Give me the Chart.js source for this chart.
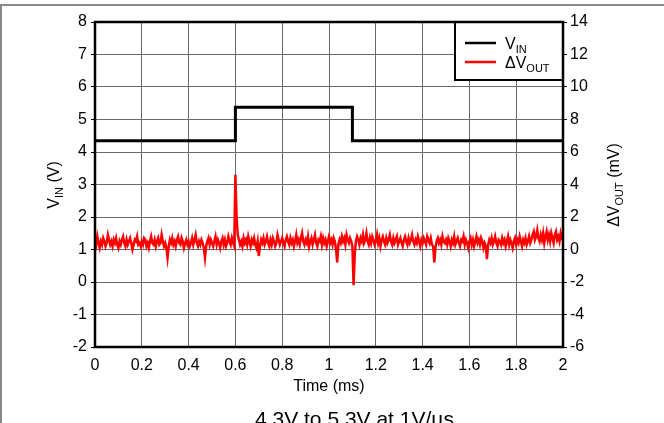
<!DOCTYPE html>
<html lang="en">
<head>
<meta charset="utf-8">
<title>VIN step response</title>
<script src="https://cdn.jsdelivr.net/npm/chart.js@4.4.0/dist/chart.umd.min.js"></script>
<style>
  html, body { margin: 0; padding: 0; background: #fff; }
  #wrap { width: 664px; height: 423px; }
</style>
</head>
<body>
<div id="wrap"><canvas id="chart" width="664" height="423"></canvas></div>
<script>
// --- data ---
const vinTimes = [0, 0.6, 0.6, 1.1, 1.1, 2];          // ms
const vinValues = [4.35, 4.35, 5.38, 5.38, 4.35, 4.35]; // V

const sampleStepMs = 0.005;
const dvoutValues = [ // mV, one sample every 0.005 ms from 0 to 2 ms
  0.6, 0.3, 0.8, 0.4, 0.1, 0.5, 0.3, 0.7, 0.5, 0.2,
  0.4, 0.9, 0.6, 0.3, 0.5, 0.2, 0.6, 0.4, 0.7, 0.3,
  0.1, 0.5, 0.3, 0.6, 0.8, 0.4, 0.2, 0.6, 0.3, 0.5,
  0.7, 0.4, 0.0, 0.3, 0.6, 0.5, 0.8, 0.3, 0.4, 0.2,
  0.5, 0.3, 0.7, 0.6, 0.2, 0.4, 0.1, 0.5, 0.8, 0.4,
  0.3, 0.6, 0.2, 0.5, 0.7, 0.3, 0.4, 0.9, 0.5, 0.2,
  0.4, 0.1, -0.5, 0.2, 0.6, 0.4, 0.7, 0.3, 0.5, 0.2,
  0.6, 0.8, 0.4, 0.3, 0.7, 0.5, 0.1, 0.4, 0.6, 0.3,
  0.5, 0.2, 0.4, 0.7, 0.3, 0.6, 0.9, 0.4, 0.2, 0.5,
  0.3, 0.6, 0.4, 0.1, -0.5, 0.2, 0.5, 0.7, 0.3, 0.6,
  0.4, 0.2, 0.5, 0.8, 0.3, 0.6, 0.4, 0.1, 0.5, 0.7,
  0.3, 0.6, 0.2, 0.4, 0.8, 0.5, 0.3, 0.7, 0.4, 0.2,
  4.6, 2.0, 0.9, 0.6, 0.3, 0.5, 0.2, 0.7, 0.4, 0.6,
  0.3, 0.8, 0.5, 0.2, 0.6, 0.4, 0.7, 0.3, 0.1, 0.5,
  -0.4, 0.2, 0.6, 0.4, 0.7, 0.3, 0.5, 0.8, 0.4, 0.2,
  0.6, 0.3, 0.7, 0.5, 0.2, 0.4, 0.9, 0.6, 0.3, 0.5,
  0.7, 0.4, 0.2, 0.6, 0.8, 0.5, 0.3, 0.7, 0.4, 0.6,
  0.2, 0.5, 0.9, 0.4, 0.6, 0.3, 0.7, 1.0, 0.5, 0.3,
  0.6, 0.4, 0.8, 0.2, 0.5, 0.7, 0.3, 0.6, 0.9, 0.4,
  0.2, 0.6, 0.5, 0.8, 0.3, 0.7, 0.4, 0.6, 0.2, 0.5,
  0.8, 0.4, 0.6, 0.3, 0.7, 0.5, 0.0, -0.8, 0.3, 0.6,
  0.4, 0.8, 0.5, 0.7, 0.3, 0.9, 0.6, 0.4, 0.7, 0.5,
  0.2, -2.2, -0.3, 0.5, 0.8, 0.6, 0.3, 0.7, 0.5, 0.9,
  0.4, 0.6, 1.0, 0.5, 0.3, 0.7, 0.4, 0.8, 0.6, 0.3,
  0.5, 0.9, 0.4, 0.7, 0.2, 0.6, 0.8, 0.5, 0.3, 0.7,
  0.4, 0.6, 0.9, 0.5, 0.3, 0.7, 0.4, 0.6, 0.8, 0.3,
  0.5, 0.7, 0.4, 0.2, 0.6, 0.8, 0.5, 0.3, 0.7, 0.4,
  0.6, 0.9, 0.5, 0.3, 0.6, 0.4, 0.8, 0.5, 0.2, 0.6,
  0.4, 0.7, 0.5, 0.3, 0.8, 0.6, 0.4, 0.7, 0.3, 0.2,
  -0.8, 0.1, 0.5, 0.7, 0.4, 0.6, 0.3, 0.8, 0.5, 0.4,
  0.6, 0.3, 0.7, 0.5, 0.2, 0.6, 0.4, 0.8, 0.3, 0.5,
  0.7, 0.4, 0.2, 0.6, 0.5, 0.8, 0.3, 0.6, 0.4, 0.1,
  0.5, 0.7, 0.3, 0.6, 0.2, 0.5, 0.8, 0.4, 0.6, 0.3,
  0.7, 0.5, 0.1, 0.4, 0.2, -0.6, 0.3, 0.6, 0.4, 0.7,
  0.3, 0.5, 0.8, 0.4, 0.2, 0.6, 0.5, 0.3, 0.7, 0.4,
  0.6, 0.2, 0.5, 0.8, 0.3, 0.6, 0.4, 0.1, 0.5, 0.7,
  0.3, 0.6, 0.4, 0.8, 0.5, 0.2, 0.6, 0.4, 0.7, 0.3,
  0.5, 0.8, 0.4, 0.6, 0.9, 1.1, 0.6, 0.8, 1.2, 0.7,
  0.5, 0.9, 0.6, 1.0, 0.4, 0.8, 1.1, 0.6, 0.9, 0.5,
  1.0, 0.7, 0.4, 0.9, 1.1, 0.6, 0.8, 0.5, 1.0, 0.7,
  0.8
];

const xRange = [0, 2];
const vinRange = [-2, 8];
const dvoutRange = [-6, 14];
const caption = '4.3V to 5.3V at 1V/µs';

const FONT = "'Liberation Sans', Arial, sans-serif";

// text with subscripts: parts = [[text, isSub], ...]
function subText(ctx, parts, x, y, size) {
  let cx = x;
  parts.forEach(p => {
    ctx.font = (p[1] ? Math.round(size * 0.7) : size) + 'px ' + FONT;
    ctx.fillText(p[0], cx, y + (p[1] ? size * 0.25 : 0));
    cx += ctx.measureText(p[0]).width;
  });
  return cx - x;
}
function subWidth(ctx, parts, size) {
  let w = 0;
  parts.forEach(p => {
    ctx.font = (p[1] ? Math.round(size * 0.7) : size) + 'px ' + FONT;
    w += ctx.measureText(p[0]).width;
  });
  return w;
}

const decor = {
  id: 'decor',
  beforeDraw(chart) {
    const ctx = chart.ctx;
    ctx.save();
    ctx.fillStyle = '#fff';
    ctx.fillRect(0, 0, chart.width, chart.height);
    ctx.strokeStyle = '#888';
    ctx.lineWidth = 2;
    ctx.beginPath();
    ctx.moveTo(1, chart.height);
    ctx.lineTo(1, 5);
    ctx.lineTo(chart.width, 5);
    ctx.stroke();
    ctx.restore();
  },
  afterDraw(chart) {
    const ctx = chart.ctx;
    const ca = chart.chartArea;
    ctx.save();
    ctx.fillStyle = '#000';
    ctx.textAlign = 'left';
    ctx.textBaseline = 'alphabetic';

    // legend box
    const lw = 108, lh = 58;
    const lx = ca.right - lw, ly = ca.top;
    ctx.fillStyle = '#fff';
    ctx.fillRect(lx, ly, lw, lh);
    ctx.strokeStyle = '#000';
    ctx.lineWidth = 2;
    ctx.strokeRect(lx, ly, lw, lh);
    const entries = [
      { color: '#000', parts: [['V', false], ['IN', true]], y: 21 },
      { color: '#ff0000', parts: [['ΔV', false], ['OUT', true]], y: 40 }
    ];
    entries.forEach(e => {
      ctx.strokeStyle = e.color;
      ctx.lineWidth = 2.5;
      ctx.beginPath();
      ctx.moveTo(lx + 10, ly + e.y);
      ctx.lineTo(lx + 41, ly + e.y);
      ctx.stroke();
      ctx.fillStyle = '#000';
      subText(ctx, e.parts, lx + 50, ly + e.y + 6, 16);
    });

    // plot frame
    ctx.strokeStyle = '#000';
    ctx.lineWidth = 2.5;
    ctx.strokeRect(ca.left, ca.top, ca.right - ca.left, ca.bottom - ca.top);

    const midY = 185;
    // left axis title
    const lParts = [['V', false], ['IN', true], [' (V)', false]];
    ctx.save();
    ctx.translate(59, midY);
    ctx.rotate(-Math.PI / 2);
    subText(ctx, lParts, -subWidth(ctx, lParts, 16) / 2, 0, 16);
    ctx.restore();

    // right axis title
    const rParts = [['ΔV', false], ['OUT', true], [' (mV)', false]];
    ctx.save();
    ctx.translate(619, midY);
    ctx.rotate(-Math.PI / 2);
    subText(ctx, rParts, -subWidth(ctx, rParts, 16) / 2, 0, 16);
    ctx.restore();

    // x axis title
    ctx.font = '16px ' + FONT;
    ctx.textAlign = 'center';
    ctx.fillText('Time (ms)', (ca.left + ca.right) / 2, 391);

    // caption (cut by the bottom edge)
    ctx.font = '21px ' + FONT;
    ctx.textAlign = 'left';
    ctx.fillText(caption, 255, 426);
    ctx.restore();
  }
};

const vinPoints = vinTimes.map((t, i) => ({ x: t, y: vinValues[i] }));
const dvoutPoints = dvoutValues.map((v, i) => ({ x: +(i * sampleStepMs).toFixed(3), y: v }));

const tickFont = { family: FONT, size: 16 };
const gridColor = '#6a6a6a';

new Chart(document.getElementById('chart'), {
  type: 'line',
  data: {
    datasets: [
      { label: 'VIN', data: vinPoints, yAxisID: 'y', borderColor: '#000', borderWidth: 3,
        pointRadius: 0, tension: 0, fill: false },
      { label: 'ΔVOUT', data: dvoutPoints, yAxisID: 'y2', borderColor: '#ff0000', borderWidth: 2.5,
        pointRadius: 0, tension: 0, fill: false }
    ]
  },
  options: {
    responsive: false,
    devicePixelRatio: 1,
    animation: false,
    layout: { padding: { top: 22, left: 0, right: 0, bottom: 0 } },
    plugins: { legend: { display: false }, tooltip: { enabled: false } },
    scales: {
      x: {
        type: 'linear', min: xRange[0], max: xRange[1],
        afterFit: s => { s.height = 76; },
        border: { display: false },
        grid: { color: gridColor, lineWidth: 1, drawTicks: false },
        ticks: { stepSize: 0.2, autoSkip: false, maxRotation: 0, padding: 9, color: '#000', font: tickFont,
          callback: v => String(Number(v.toFixed(1))) }
      },
      y: {
        position: 'left', min: vinRange[0], max: vinRange[1],
        afterFit: s => { s.width = 95; },
        border: { display: false },
        grid: { color: gridColor, lineWidth: 1, tickLength: 4, tickColor: '#000', tickWidth: 1 },
        ticks: { stepSize: 1, padding: 4, color: '#000', font: tickFont, callback: v => String(v) }
      },
      y2: {
        position: 'right', min: dvoutRange[0], max: dvoutRange[1],
        afterFit: s => { s.width = 101; },
        border: { display: false },
        grid: { drawOnChartArea: false, tickLength: 4, tickColor: '#000', tickWidth: 1 },
        ticks: { stepSize: 2, padding: 3, color: '#000', font: tickFont, callback: v => String(v) }
      }
    }
  },
  plugins: [decor]
});
</script>
</body>
</html>
